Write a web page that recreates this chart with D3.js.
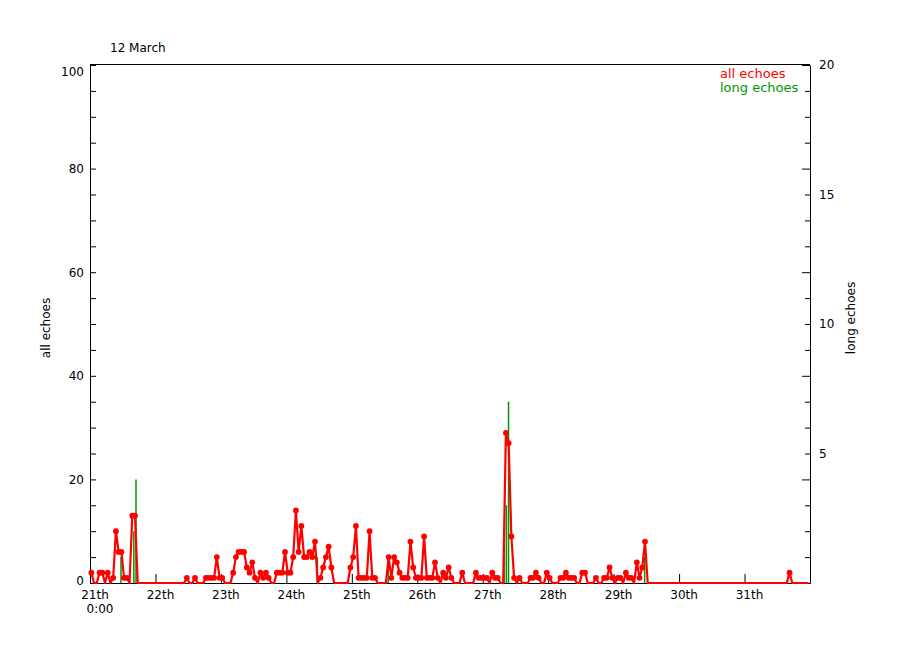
<!DOCTYPE html>
<html><head><meta charset="utf-8">
<script src="https://cdn.jsdelivr.net/npm/d3@7"></script>
<style>
body{margin:0;background:#fff}
svg text{font-family:"DejaVu Sans",sans-serif;font-size:12px;fill:#000}
</style></head>
<body><svg id="chart" width="900" height="650"></svg>
<script>
// ---- data (hourly counts, 21 March 0:00 onward) ----
const title = "12  March";
const dayLabels = ["21th","22th","23th","24th","25th","26th","27th","28th","29th","30th","31th"];
const echoes21 = [2,0,0,2,2,0,2,0,1,10,6,6,1,1,0,13,13,0,0,0,0,0,0,0];
const echoes22 = [0,0,0,0,0,0,0,0,0,0,0,1,0,0,1,0,0,0,1,1,1,1,5,1];
const echoes23 = [1,0,0,0,2,5,6,6,6,3,2,4,1,0,2,1,2,1,0,0,2,2,2,6];
const echoes24 = [2,2,5,14,6,11,5,5,6,5,8,0,1,3,5,7,3,0,0,0,0,0,0,3];
const echoes25 = [5,11,1,1,1,1,10,1,1,0,0,0,0,5,1,5,4,2,1,1,1,8,3,1];
const echoes26 = [1,1,9,1,1,1,4,1,0,2,1,3,1,0,0,0,2,0,0,0,0,2,1,1];
const echoes27 = [1,1,0,2,1,1,0,0,29,27,9,1,0,1,0,0,0,1,1,2,1,0,0,2];
const echoes28 = [1,0,0,0,1,1,2,1,1,1,0,0,2,2,0,0,0,1,0,0,1,1,3,1];
const echoes29 = [0,1,1,0,2,1,1,0,4,1,3,8,0,0,0,0,0,0,0,0,0,0,0,0];
const echoes30 = [0,0,0,0,0,0,0,0,0,0,0,0,0,0,0,0,0,0,0,0,0,0,0,0];
const echoes31 = [0,0,0,0,0,0,0,0,0,0,0,0,0,0,0,0,2,0,0,0,0,0,0,0];
// long echoes: hours since 21st 0:00 and values (right axis)
const longHours  = [11.0, 15.7, 16.5, 83.0, 109.0, 151.5, 152.3, 153.1, 203.0];
const longValues = [1, 2, 4, 1, 1, 2, 3, 7, 1];
const leftLabels = [0,20,40,60,80,100];
const rightLabels = [5,10,15,20];

const allEchoes = [].concat(echoes21,echoes22,echoes23,echoes24,echoes25,echoes26,
                            echoes27,echoes28,echoes29,echoes30,echoes31);
const echoData = allEchoes.map((v,i)=>({h:i,v:v}));
const longData = longHours.map((h,i)=>({h:h,v:longValues[i]}));

const svg = d3.select("#chart");
const L=90, R=810, T=65, B=583;
const x = d3.scaleLinear().domain([0, 264]).range([L, R]);
const yL = d3.scaleLinear().domain([0, 100]).range([B, T]);
const yR = d3.scaleLinear().domain([0, 20]).range([B, T]);

// frame top
svg.append("line").attr("x1",L).attr("x2",R).attr("y1",T-0.5).attr("y2",T-0.5)
  .attr("stroke","#000").attr("stroke-width",1);

// left axis
const gl = svg.append("g").attr("transform",`translate(${L},0)`)
  .call(d3.axisLeft(yL).tickValues(d3.range(0,101,5)).tickSizeInner(-6).tickSizeOuter(0)
    .tickPadding(6).tickFormat(d => leftLabels.includes(d) ? d : ""));
gl.selectAll("text").filter(d=>d===100).attr("dy","0.85em");
gl.selectAll("text").filter(d=>d===0).attr("dy","0.1em");

// right axis
const gr = svg.append("g").attr("transform",`translate(${R},0)`)
  .call(d3.axisRight(yR).tickValues(d3.range(0,21,1)).tickSizeInner(-5).tickSizeOuter(0)
    .tickPadding(9).tickFormat(d => rightLabels.includes(d) ? d : ""));
gr.selectAll(".tick line").filter(d=>d%4===0).attr("x2",-8);

// bottom axis
const gb = svg.append("g").attr("transform",`translate(0,${B})`)
  .call(d3.axisBottom(x).tickValues(d3.range(0,264,24)).tickSizeInner(-9).tickSizeOuter(0)
    .tickFormat(""));

[gl,gr,gb].forEach(g=>{
  g.attr("font-family",null).attr("font-size",null);
  g.selectAll("path,line").attr("stroke","#000");
});

// day labels
svg.append("g").selectAll("text").data(dayLabels).join("text")
  .attr("x",(d,i)=>x(i*24)+5).attr("y",599).attr("text-anchor","middle").text(d=>d);
svg.append("text").attr("x",x(0)+10).attr("y",613).attr("text-anchor","middle").text("0:00");

// title, axis titles
svg.append("text").attr("x",110).attr("y",52).text(title);
svg.append("text").attr("transform","translate(50,328) rotate(-90)")
  .attr("text-anchor","middle").text("all echoes");
svg.append("text").attr("transform","translate(855,318) rotate(-90)")
  .attr("text-anchor","middle").text("long echoes");

// long echoes bars
svg.append("g").selectAll("line").data(longData).join("line")
  .attr("x1",d=>x(d.h)+1).attr("x2",d=>x(d.h)+1)
  .attr("y1",yR(0)).attr("y2",d=>yR(d.v))
  .attr("stroke","#009600").attr("stroke-width",1.5);

// all echoes line + dots
const line = d3.line().x(d=>x(d.h+0.5)).y(d=>yL(d.v));
svg.append("path").datum(echoData).attr("d",line)
  .attr("fill","none").attr("stroke","#ff0000").attr("stroke-width",2.2).attr("stroke-linejoin","round");
svg.append("g").selectAll("circle").data(echoData.filter(d=>d.v>0)).join("circle")
  .attr("cx",d=>x(d.h+0.5)).attr("cy",d=>yL(d.v)).attr("r",2.9).attr("fill","#ff0000");

// legend
svg.append("text").attr("x",720).attr("y",78).style("font-size","13px").style("fill","#ff0000").text("all echoes");
svg.append("text").attr("x",720).attr("y",92).style("font-size","13px").style("fill","#009600").text("long echoes");
</script></body></html>
